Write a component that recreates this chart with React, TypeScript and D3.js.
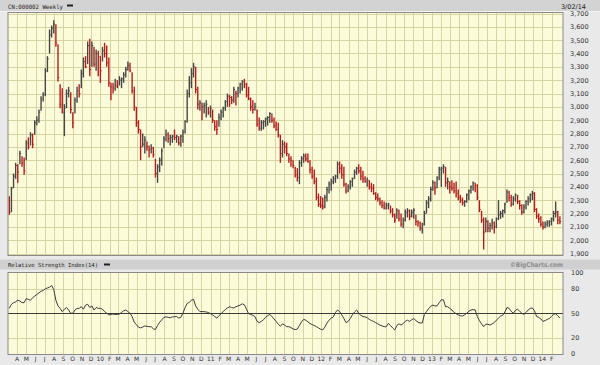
import React from 'react';
import * as d3 from 'd3';

const START = new Date(2009, 2, 6);

const high = [
  2330,2400,2500,2580,2570,2670,2630,2620,2750,2770,
  2810,2800,2900,2930,2980,3080,3110,3290,3380,3580,
  3610,3650,3620,3470,3170,3140,3020,3130,3150,3110,
  2960,3070,3150,3170,3280,3370,3380,3490,3510,3490,
  3450,3430,3420,3380,3450,3480,3460,3370,3180,3180,
  3210,3200,3230,3220,3260,3300,3340,3330,3260,3150,
  3000,2900,2830,2800,2780,2740,2710,2720,2700,2610,
  2570,2620,2690,2780,2830,2810,2790,2790,2830,2790,
  2780,2790,2830,2900,3130,3230,3290,3330,3300,3150,
  3050,3030,3030,3050,3000,3010,2980,2900,2900,2950,
  2980,3000,3050,3100,3090,3080,3150,3120,3150,3180,
  3200,3210,3180,3150,3070,3050,3030,2980,2920,2900,
  2900,2920,2930,2960,2950,2920,2890,2880,2790,2750,
  2740,2730,2650,2630,2600,2550,2540,2600,2630,2650,
  2650,2650,2600,2550,2530,2470,2350,2330,2320,2340,
  2400,2440,2460,2480,2490,2590,2590,2570,2550,2430,
  2420,2450,2470,2530,2550,2570,2550,2520,2480,2470,
  2450,2430,2420,2360,2350,2320,2300,2290,2280,2280,
  2260,2240,2200,2240,2230,2200,2170,2230,2240,2230,
  2230,2240,2190,2150,2140,2130,2220,2300,2330,2400,
  2450,2440,2480,2550,2550,2570,2550,2470,2440,2450,
  2430,2440,2380,2340,2320,2300,2350,2380,2410,2440,
  2430,2420,2300,2220,2170,2170,2150,2130,2160,2140,
  2170,2300,2220,2230,2280,2380,2370,2340,2330,2350,
  2340,2300,2270,2270,2300,2330,2350,2370,2360,2240,
  2200,2180,2140,2140,2150,2150,2170,2220,2290,2220,
  2180,
];

const low = [
  2190,2210,2390,2460,2430,2570,2550,2490,2600,2680,
  2710,2690,2790,2860,2880,2970,3040,3080,3260,3400,
  3520,3550,3450,3190,2990,2950,2780,2990,3070,2950,
  2840,2950,3030,3070,3140,3220,3290,3320,3230,3300,
  3300,3270,3230,3180,3340,3370,3300,3150,3050,3100,
  3120,3140,3160,3140,3180,3220,3270,3260,3100,2970,
  2850,2800,2600,2700,2650,2670,2620,2650,2620,2470,
  2430,2510,2560,2690,2740,2730,2710,2730,2750,2730,
  2710,2700,2730,2800,2880,3070,3140,3220,3100,2980,
  2970,2900,2950,2920,2940,2920,2880,2820,2790,2850,
  2900,2920,2970,3000,3000,3020,3030,3010,3070,3100,
  3120,3140,3070,3050,2970,2950,2970,2850,2820,2820,
  2830,2850,2860,2880,2880,2840,2820,2770,2580,2620,
  2650,2630,2580,2550,2540,2470,2440,2420,2550,2580,
  2590,2580,2500,2460,2420,2300,2250,2240,2230,2240,
  2290,2350,2370,2420,2430,2460,2500,2460,2400,2350,
  2360,2380,2400,2460,2490,2500,2450,2430,2430,2400,
  2380,2360,2340,2300,2290,2260,2240,2230,2230,2230,
  2200,2170,2130,2160,2140,2100,2090,2140,2170,2150,
  2170,2160,2110,2100,2070,2050,2110,2200,2240,2290,
  2370,2340,2390,2450,2400,2500,2400,2380,2350,2370,
  2350,2320,2300,2280,2260,2250,2280,2300,2350,2370,
  2360,2300,2210,2130,1930,2060,2060,2060,2080,2050,
  2090,2150,2160,2170,2200,2280,2290,2250,2260,2290,
  2270,2230,2190,2200,2230,2260,2280,2300,2210,2160,
  2130,2100,2080,2090,2100,2100,2110,2140,2170,2120,
  2120,
];

const close = [
  2210,2390,2480,2560,2510,2650,2580,2520,2730,2700,
  2790,2720,2880,2900,2960,3060,3090,3270,3360,3540,
  3590,3620,3480,3220,3020,2960,2990,3100,3120,2980,
  2880,3050,3120,3100,3250,3340,3300,3460,3280,3460,
  3320,3400,3380,3270,3420,3400,3330,3180,3150,3140,
  3160,3150,3200,3210,3240,3280,3310,3270,3120,3000,
  2880,2830,2700,2720,2750,2700,2680,2690,2640,2500,
  2550,2600,2670,2760,2790,2760,2770,2780,2770,2780,
  2730,2780,2810,2890,3100,3180,3250,3300,3130,3020,
  3030,3000,3010,3020,2960,2990,2900,2850,2830,2920,
  2960,2990,3040,3080,3070,3050,3130,3100,3140,3170,
  3190,3170,3090,3060,3000,2980,3000,2870,2840,2880,
  2890,2910,2920,2950,2900,2860,2830,2790,2650,2720,
  2700,2650,2610,2600,2560,2490,2470,2580,2610,2630,
  2610,2590,2530,2480,2440,2320,2270,2260,2250,2320,
  2380,2420,2440,2460,2480,2570,2540,2490,2420,2370,
  2400,2440,2460,2510,2540,2520,2480,2460,2440,2450,
  2400,2390,2350,2320,2310,2280,2260,2240,2260,2270,
  2220,2190,2150,2220,2160,2120,2150,2210,2220,2180,
  2210,2225,2140,2130,2090,2120,2200,2280,2310,2380,
  2430,2390,2470,2530,2540,2550,2430,2440,2400,2390,
  2370,2350,2320,2300,2280,2290,2340,2370,2400,2430,
  2410,2320,2230,2150,2060,2140,2090,2110,2130,2100,
  2160,2190,2200,2220,2270,2360,2320,2270,2310,2340,
  2290,2260,2210,2250,2290,2310,2340,2350,2230,2180,
  2160,2120,2100,2120,2130,2140,2160,2200,2210,2150,
  2140,
];

const rsi = [
  56,61,63,64,66,65,63,63,68,67,
  66,69,71,73,75,77,78,80,81,82,
  84,79,66,59,56,52,55,57,54,50,
  50,54,56,56,58,55,60,61,57,59,
  54,57,56,56,55,52,50,48,48.5,49,
  48.5,48.5,49,51,53,54,52,50,46,39,
  36,33,32,33,34.5,34,33.5,33.5,31,30,
  35,39,42,45,45.5,45,44.5,45.5,45.7,46,
  44,45,50,57,62,63.5,66,67,59,55,
  52,52,52,51.5,51,49.5,48,46,44,47,
  49.5,52,54.5,56.5,58,57,56.5,58,59,60,
  61.5,60.5,55,49.5,48.5,47.5,46,40,38.5,40,
  42,45,47,48.7,46,43,40,36.5,34,37,
  35.5,33.5,33.5,32.5,30.7,30,30.5,35,39.5,42.5,
  41.5,39.5,37.5,36,35,33.5,32,30.5,29.5,33,
  38,41.5,44,45.5,51,54,52,48,43.5,38.5,
  40,43.5,48,51.5,54,50,47.5,46,45.5,44.5,
  42.5,41,40,38.5,37,35.5,34.5,33.5,33.5,37.5,
  35,32,29.5,35,37,35.5,37.5,40,41.5,40,
  42,43.5,41,39,38,38,48.5,52,55.5,58.5,
  60,59,59,63,66.5,66.5,58,58,56,54,
  51,49.5,48,47,46.5,48,50,52.5,54,54.5,
  54,46,41,37,33.5,36.5,36.5,35.5,37,38.5,
  41.5,44,46.5,47.5,51.5,57,56,52.5,50,53.5,
  55,52.5,50,48.5,51,54,56,56.5,53,46,
  45,43,40,41,42.5,43.5,46,48.7,49.5,47,
  44,
];

const priceTicks = [1900,2000,2100,2200,2300,2400,2500,2600,2700,2800,2900,3000,3100,3200,3300,3400,3500,3600,3700];
const rsiTicks = [0,20,50,80,100];
const rsiGrid = [20,80];

const BG = '#e9e9e9';
const PLOT = '#fdfcda';
const GRID = '#d8d3a2';
const BORDER = '#8a8a8a';
const UP = '#474747';
const DOWN = '#b21e1e';

export default function App() {
  const dates = close.map((_, i) => d3.timeDay.offset(START, i * 7));
  const L = 8, R = 563;
  const x = d3.scaleTime().domain([dates[0], dates[dates.length - 1]]).range([9.3, 559.9]);
  const yP = d3.scaleLinear().domain([1900, 3700]).range([253.5, 13.5]);
  const yR = d3.scaleLinear().domain([0, 100]).range([354, 272.5]);
  const months = d3.timeMonth.range(new Date(2009, 3, 1), new Date(2014, 2, 1));
  const mLabel = (d: Date) => (d.getMonth() === 0 ? d3.timeFormat('%y')(d) : d3.timeFormat('%b')(d)[0]);
  const fmt = d3.format(',');
  const line = d3.line<number>().x((_, i) => x(dates[i])).y((d) => yR(d));

  const mainTop = 12.5, mainBot = 255.5;
  const rsiTop = 272.5, rsiBot = 354.5;

  return (
    <svg width={600} height={365} style={{ position: 'absolute', left: 0, top: 0, display: 'block' }}
      fontFamily="'DejaVu Sans', sans-serif">
      <rect x={0} y={0} width={600} height={365} fill={BG} />
      {/* top header */}
      <rect x={0} y={0} width={600} height={11} fill="#d3d3d3" />
      <line x1={0} x2={600} y1={11.5} y2={11.5} stroke="#f4f4f4" />
      <text x={8} y={8.5} fontSize={6} fontFamily="'DejaVu Sans Mono', monospace" fill="#222"
        textLength={55} lengthAdjust="spacingAndGlyphs">CN:000002 Weekly</text>
      <rect x={67} y={4.5} width={6} height={2} fill="#222" />
      <text x={586} y={8.5} fontSize={6.5} fill="#222" textAnchor="end">3/02/14</text>

      {/* main plot */}
      <rect x={L} y={mainTop} width={R - L} height={mainBot - mainTop} fill={PLOT} />
      {months.map((m, i) => (
        <line key={'vg' + i} x1={Math.round(x(m)) + 0.5} x2={Math.round(x(m)) + 0.5} y1={mainTop} y2={mainBot} stroke={GRID} strokeWidth={1} />
      ))}
      {priceTicks.map((v) => (
        <line key={'hg' + v} x1={L} x2={R} y1={Math.round(yP(v)) + 0.5} y2={Math.round(yP(v)) + 0.5} stroke={GRID} strokeWidth={1} />
      ))}
      {close.map((c, i) => {
        const xi = x(dates[i]);
        const col = i > 0 && c < close[i - 1] ? DOWN : i === 0 ? DOWN : UP;
        return (
          <g key={'b' + i} stroke={col}>
            <line x1={xi} x2={xi} y1={yP(high[i])} y2={yP(low[i])} strokeWidth={1.4} />
            <line x1={xi} x2={xi + 1.3} y1={yP(c)} y2={yP(c)} strokeWidth={1} />
          </g>
        );
      })}
      <rect x={L} y={mainTop} width={R - L} height={mainBot - mainTop} fill="none" stroke={BORDER} strokeWidth={1} />
      {priceTicks.map((v) => (
        <text key={'pl' + v} x={570} y={yP(v) + 2.4} fontSize={6.5} fill="#333">{fmt(v)}</text>
      ))}

      {/* RSI header */}
      <rect x={0} y={259.5} width={600} height={10} fill="#d0d0d0" />
      <text x={8} y={267} fontSize={5.6} fontFamily="'DejaVu Sans Mono', monospace" fill="#222"
        textLength={90} lengthAdjust="spacingAndGlyphs">Relative Strength Index(14)</text>
      <rect x={104} y={263.5} width={6} height={2} fill="#222" />
      <text x={563} y={267.2} fontSize={6.5} fontWeight="bold" fill="#8c8c8c" textAnchor="end"
        textLength={53} lengthAdjust="spacingAndGlyphs">©BigCharts.com</text>

      {/* RSI plot */}
      <rect x={L} y={rsiTop} width={R - L} height={rsiBot - rsiTop} fill={PLOT} />
      {months.map((m, i) => (
        <line key={'rvg' + i} x1={Math.round(x(m)) + 0.5} x2={Math.round(x(m)) + 0.5} y1={rsiTop} y2={rsiBot} stroke={GRID} strokeWidth={1} />
      ))}
      {rsiGrid.map((v) => (
        <line key={'rg' + v} x1={L} x2={R} y1={Math.round(yR(v)) + 0.5} y2={Math.round(yR(v)) + 0.5} stroke={GRID} strokeWidth={1} />
      ))}
      <line x1={L} x2={R} y1={Math.round(yR(50)) + 0.5} y2={Math.round(yR(50)) + 0.5} stroke="#3a3a3a" strokeWidth={1} />
      <path d={line(rsi) || ''} fill="none" stroke="#3c3c3c" strokeWidth={1} />
      <rect x={L} y={rsiTop} width={R - L} height={rsiBot - rsiTop} fill="none" stroke={BORDER} strokeWidth={1} />
      {rsiTicks.map((v) => (
        <text key={'rl' + v} x={571} y={yR(v) + 2.4} fontSize={6.5} fill="#333">{v}</text>
      ))}
      {months.map((m, i) => (
        <text key={'ml' + i} x={x(m)} y={361} fontSize={6} fill="#333" textAnchor="middle">{mLabel(m)}</text>
      ))}
    </svg>
  );
}
